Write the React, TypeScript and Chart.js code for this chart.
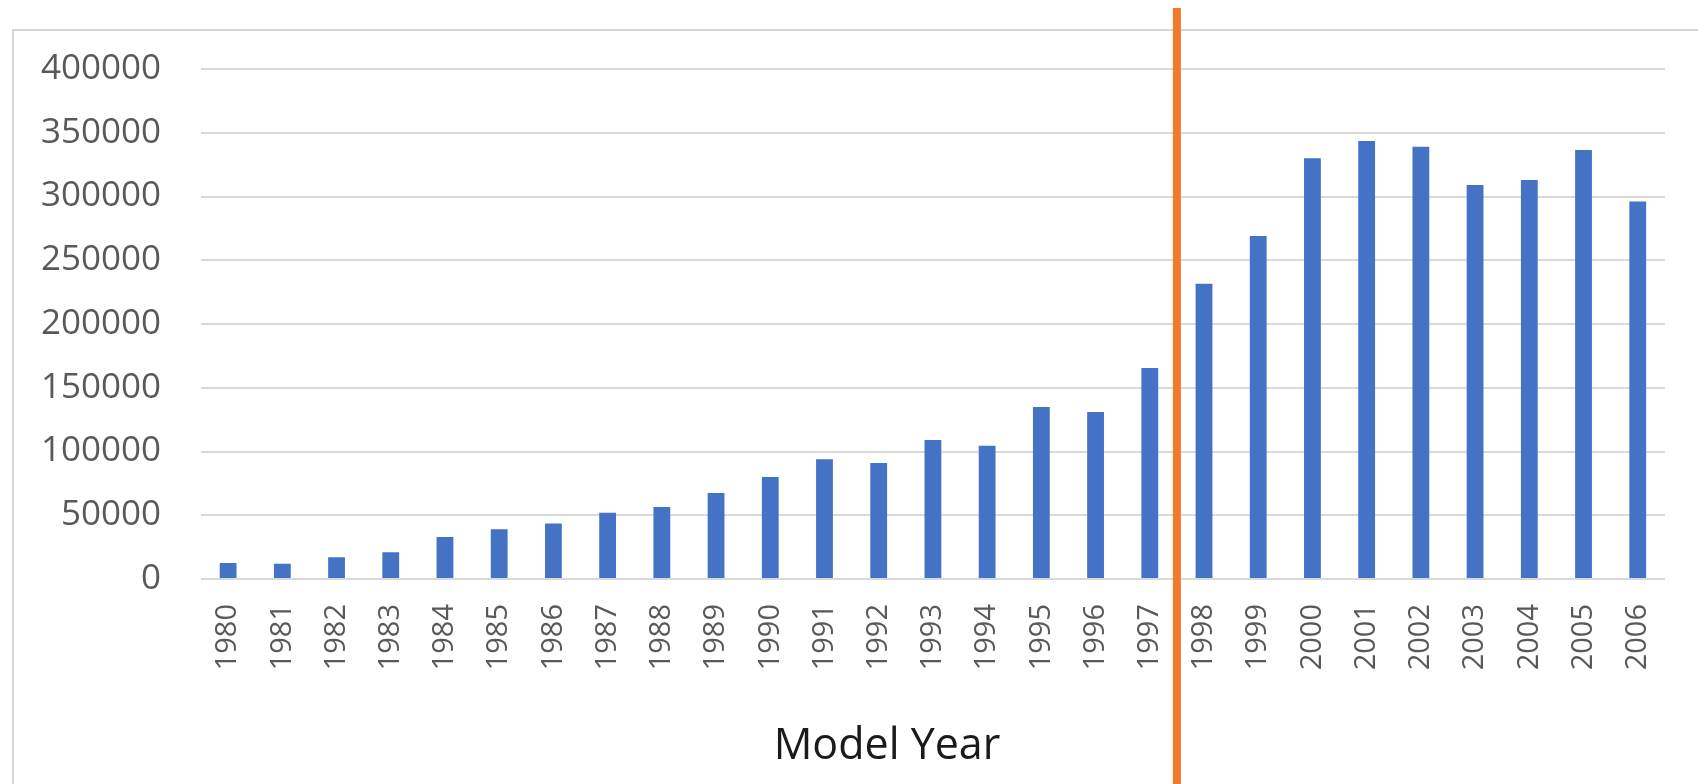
import React, { useEffect, useRef } from "react";
import { Chart, registerables } from "chart.js";

Chart.register(...registerables);

const years: string[] = [
  "1980", "1981", "1982", "1983", "1984", "1985", "1986", "1987", "1988",
  "1989", "1990", "1991", "1992", "1993", "1994", "1995", "1996", "1997",
  "1998", "1999", "2000", "2001", "2002", "2003", "2004", "2005", "2006",
];

const counts: number[] = [
  12500, 12000, 17000, 21000, 33000, 39000, 43500, 52000, 56500,
  67500, 80000, 94000, 91000, 109000, 104500, 135000, 131000, 165500,
  231500, 269000, 330000, 343500, 339000, 309000, 313000, 336500, 296000,
];

const yTickValues: number[] = [0, 50000, 100000, 150000, 200000, 250000, 300000, 350000, 400000];

const splitAfterYear = "1997";
const xAxisTitle = "Model Year";

const W = 1698;
const H = 784;

export default function App() {
  const ref = useRef<HTMLCanvasElement | null>(null);

  useEffect(() => {
    const canvas = ref.current;
    if (!canvas) return;

    const framePlugin = {
      id: "frame",
      beforeDraw(chart: any) {
        const ctx = chart.ctx;
        ctx.save();
        ctx.strokeStyle = "#d6d6d6";
        ctx.lineWidth = 2;
        ctx.beginPath();
        ctx.moveTo(13, H);
        ctx.lineTo(13, 30);
        ctx.lineTo(W, 30);
        ctx.stroke();
        ctx.restore();
      },
    };

    const splitPlugin = {
      id: "split",
      afterDraw(chart: any) {
        const xs = chart.scales.x;
        const i = years.indexOf(splitAfterYear);
        const x = (xs.getPixelForValue(i) + xs.getPixelForValue(i + 1)) / 2;
        const ctx = chart.ctx;
        ctx.save();
        ctx.strokeStyle = "#EE7A2A";
        ctx.lineWidth = 8;
        ctx.beginPath();
        ctx.moveTo(x, 8);
        ctx.lineTo(x, H);
        ctx.stroke();
        ctx.restore();
      },
    };

    const chart = new Chart(canvas, {
      type: "bar",
      data: {
        labels: years,
        datasets: [
          {
            data: counts,
            backgroundColor: "#4472C4",
            borderWidth: 0,
            barPercentage: 0.31,
            categoryPercentage: 1,
          },
        ],
      },
      options: {
        animation: false,
        responsive: false,
        devicePixelRatio: 1,
        layout: { padding: { top: 69, right: 25, bottom: 0, left: 0 } },
        plugins: {
          legend: { display: false },
          tooltip: { enabled: false },
          title: { display: false },
        },
        scales: {
          x: {
            grid: { display: false, drawTicks: false },
            border: { display: false },
            afterFit: (s: any) => {
              s.height = H - 579;
            },
            ticks: {
              autoSkip: false,
              maxRotation: 90,
              minRotation: 90,
              padding: 25,
              color: "#595959",
              font: { family: "'Open Sans', sans-serif", size: 29 },
            },
          },
          y: {
            min: 0,
            max: 400000,
            afterFit: (s: any) => {
              s.width = 201;
            },
            afterBuildTicks: (s: any) => {
              s.ticks = yTickValues.map((v) => ({ value: v }));
            },
            grid: { color: "#d9d9d9", lineWidth: 2, drawTicks: false },
            border: { display: false },
            ticks: {
              padding: 40,
              color: "#595959",
              font: { family: "'Open Sans', sans-serif", size: 35 },
              callback: (v: any) => String(v),
            },
          },
        },
      },
      plugins: [framePlugin, splitPlugin],
    });

    return () => chart.destroy();
  }, []);

  return (
    <div style={{ position: "fixed", left: 0, top: 0, width: W, height: H, background: "#fff" }}>
      <canvas ref={ref} width={W} height={H} style={{ width: W, height: H, display: "block" }} />
      <div
        style={{
          position: "absolute",
          left: 887 - 250,
          width: 500,
          top: 714,
          textAlign: "center",
          fontFamily: "'Open Sans', sans-serif",
          fontSize: 43,
          color: "#1a1a1a",
          lineHeight: "58px",
        }}
      >
        {xAxisTitle}
      </div>
    </div>
  );
}
